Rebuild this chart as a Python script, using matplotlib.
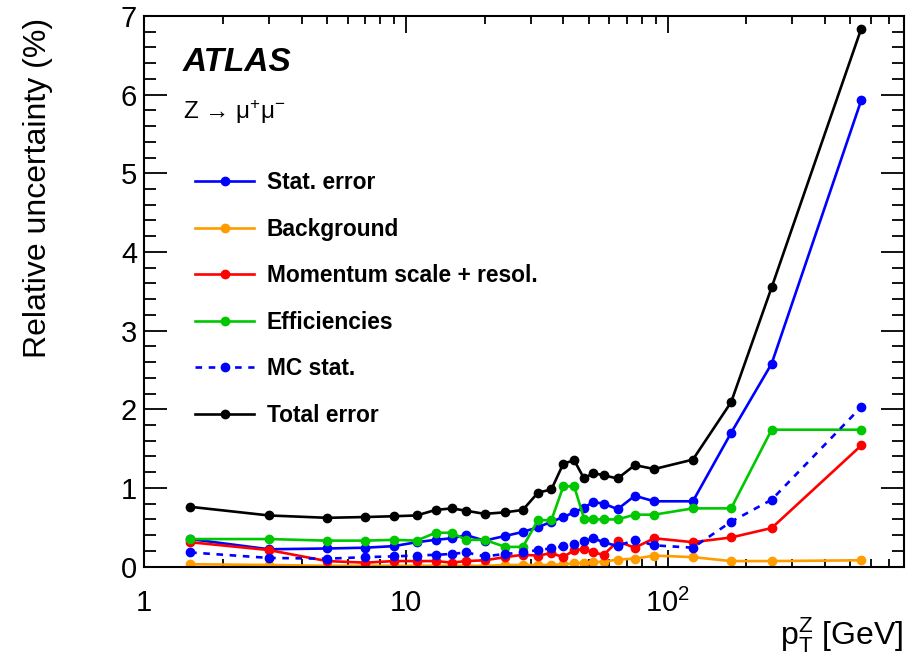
"""
Incertezas relativas vs pT do Z (ATLAS, Z -> mu mu)
"""
import matplotlib
matplotlib.use('Agg')
import matplotlib.pyplot as plt
from matplotlib.ticker import FixedLocator, FixedFormatter, LogLocator, NullFormatter, MultipleLocator

plt.rcParams['font.family'] = ['Liberation Sans', 'DejaVu Sans']
plt.rcParams['mathtext.default'] = 'regular'

# Centros dos bins em pT (GeV)
pt = [1.5, 3, 5, 7, 9, 11, 13, 15, 17, 20, 24, 28, 32, 36, 40, 44, 48, 52,
      57, 64.5, 75, 89, 125, 175, 250, 550]

# Incertezas relativas (%)
stat_err = [0.35, 0.22, 0.23, 0.24, 0.26, 0.31, 0.34, 0.36, 0.40, 0.33, 0.39, 0.44, 0.50,
            0.57, 0.63, 0.69, 0.75, 0.82, 0.80, 0.73, 0.90, 0.83, 0.83, 1.70, 2.58, 5.93]
background = [0.03, 0.02, 0.01, 0.01, 0.01, 0.01, 0.01, 0.01, 0.01, 0.01, 0.02, 0.02, 0.02,
              0.02, 0.03, 0.04, 0.05, 0.06, 0.06, 0.09, 0.10, 0.14, 0.12, 0.07, 0.07, 0.08]
momentum = [0.31, 0.21, 0.07, 0.05, 0.07, 0.07, 0.07, 0.05, 0.07, 0.08, 0.12, 0.15, 0.14,
            0.17, 0.12, 0.21, 0.22, 0.18, 0.15, 0.32, 0.24, 0.36, 0.31, 0.37, 0.49, 1.54]
efficiencies = [0.35, 0.35, 0.33, 0.33, 0.34, 0.33, 0.43, 0.43, 0.34, 0.34, 0.25, 0.25, 0.59,
                0.59, 1.02, 1.02, 0.61, 0.60, 0.60, 0.60, 0.66, 0.66, 0.74, 0.74, 1.74, 1.74]
mc_stat = [0.18, 0.11, 0.10, 0.12, 0.13, 0.14, 0.15, 0.16, 0.18, 0.13, 0.16, 0.18, 0.21,
           0.23, 0.26, 0.29, 0.32, 0.36, 0.31, 0.26, 0.34, 0.27, 0.24, 0.57, 0.85, 2.03]
total_err = [0.76, 0.65, 0.62, 0.63, 0.64, 0.65, 0.72, 0.74, 0.71, 0.67, 0.69, 0.72, 0.94,
             0.98, 1.31, 1.35, 1.12, 1.19, 1.16, 1.12, 1.29, 1.24, 1.36, 2.09, 3.55, 6.84]

fig = plt.figure(figsize=(9.21, 6.65), dpi=100)
ax = fig.add_axes([0.1564, 0.148, 0.825, 0.828])

lw = 1.9
ms = 6
ax.plot(pt, stat_err, '-o', color='#0000ff', lw=lw, ms=ms, label='Stat. error')
ax.plot(pt, background, '-o', color='#ff9c00', lw=lw, ms=ms, label='Background')
ax.plot(pt, momentum, '-o', color='#ff0000', lw=lw, ms=ms, label='Momentum scale + resol.')
ax.plot(pt, efficiencies, '-o', color='#00c800', lw=lw, ms=ms, label='Efficiencies')
ax.plot(pt, mc_stat, '--o', color='#0000ff', lw=lw, ms=ms, dashes=(2.5, 2.5), label='MC stat.')
ax.plot(pt, total_err, '-o', color='black', lw=lw, ms=ms, label='Total error')

ax.set_xscale('log')
ax.set_xlim(1, 800)
ax.set_ylim(0, 7)

ax.xaxis.set_major_locator(FixedLocator([1, 10, 100]))
ax.xaxis.set_major_formatter(FixedFormatter(['1', '10', r'$10^{2}$']))
ax.xaxis.set_minor_locator(LogLocator(base=10, subs=range(2, 10), numticks=20))
ax.xaxis.set_minor_formatter(NullFormatter())
ax.yaxis.set_major_locator(MultipleLocator(1))
ax.yaxis.set_minor_locator(MultipleLocator(0.2))

ax.tick_params(which='both', direction='in', top=True, right=True, width=1.3)
ax.tick_params(axis='y', which='major', length=16.5, labelsize=21, pad=5)
ax.tick_params(axis='y', which='minor', length=8.5)
ax.tick_params(axis='x', which='major', length=12, labelsize=21, pad=16)
ax.tick_params(axis='x', which='minor', length=6)
for s in ax.spines.values():
    s.set_linewidth(1.5)

fig.text(0.041, 0.973, 'Relative uncertainty (%)', rotation=90, ha='center', va='top', fontsize=23)
fig.text(0.981, 0.045, r'$p_{T}^{Z}$ [GeV]', ha='right', va='center', fontsize=23)

ax.text(0.051, 0.916, 'ATLAS', transform=ax.transAxes, fontsize=24,
        fontweight='bold', fontstyle='italic', va='center')
ax.text(0.051, 0.826, 'Z \u2192 $\\mu^{+}\\mu^{-}$', transform=ax.transAxes,
        fontsize=17.5, va='center')

leg = ax.legend(loc='upper left', bbox_to_anchor=(0.067, 0.718), frameon=False,
                numpoints=1, handlelength=2.6, handletextpad=0.55, labelspacing=1.03,
                borderpad=0, borderaxespad=0, prop={'size': 16.4, 'weight': 'bold'})

fig.savefig('out.png', dpi=100)
